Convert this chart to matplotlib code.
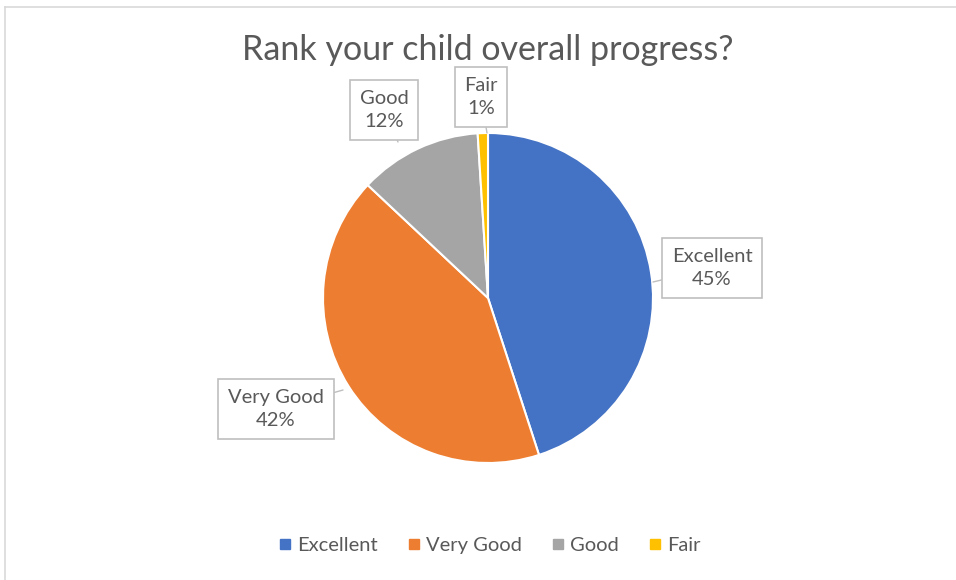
import numpy as np
import matplotlib.pyplot as plt
from matplotlib.lines import Line2D

# chart data
categories = ["Excellent", "Very Good", "Good", "Fair"]
shares = [45, 42, 12, 1]
colors = ["#4472C4", "#ED7D31", "#A5A5A5", "#FFC000"]
title = "Rank your child overall progress?"

W, H = 956, 580
plt.rcParams["font.family"] = ["Lato", "DejaVu Sans"]

fig = plt.figure(figsize=(W / 100, H / 100), dpi=100)
ax = fig.add_axes([0, 0, 1, 1])

# chart frame (only top / left visible in the crop)
ax.add_line(Line2D([5.5, 5.5], [0, H - 7], color="#D9D9D9", lw=1.2))
ax.add_line(Line2D([5.5, W], [H - 7, H - 7], color="#D9D9D9", lw=1.2))

cx, cy, r = 488, H - 298, 165
wedges, _ = ax.pie(
    shares,
    colors=colors,
    startangle=90,
    counterclock=False,
    center=(cx, cy),
    radius=r,
    frame=True,
    wedgeprops=dict(edgecolor="white", linewidth=1.5),
)
ax.set_xlim(0, W)
ax.set_ylim(0, H)
ax.set_aspect("equal")
ax.axis("off")

ax.text(cx, H - 50, title, ha="center", va="center", fontsize=24.5,
        color="#595959")

# callout labels: box centre (px from top-left) and pointer target
label_pos = {
    "Excellent": ((712, 268), (653, 282)),
    "Very Good": ((276, 409), (343, 390)),
    "Good": ((384, 110), (398, 142)),
    "Fair": ((481, 97), (487, 133)),
}
for w, name, val in zip(wedges, categories, shares):
    (bx, by), (px, py) = label_pos[name]
    ax.annotate(
        f"{name}\n{val}%",
        xy=(px, H - py),
        xytext=(bx, H - by),
        ha="center",
        va="center",
        fontsize=14.5,
        color="#595959",
        linespacing=1.45,
        bbox=dict(boxstyle="square,pad=0.48", fc="white", ec="#BFBFBF",
                  lw=1.2),
        arrowprops=dict(arrowstyle="-", color="#BFBFBF", lw=1.0,
                        shrinkA=0, shrinkB=0),
    )

handles = [
    Line2D([], [], marker="s", linestyle="none", markersize=7,
           markerfacecolor=c, markeredgecolor=c, label=n)
    for n, c in zip(categories, colors)
]
leg = ax.legend(
    handles=handles,
    loc="center",
    bbox_to_anchor=(488 / W, 1 - 545 / H),
    ncol=4,
    frameon=False,
    fontsize=14.5,
    handletextpad=0.1,
    columnspacing=1.3,
    handlelength=1.0,
)
for t in leg.get_texts():
    t.set_color("#595959")

fig.savefig("out.png", dpi=100)
